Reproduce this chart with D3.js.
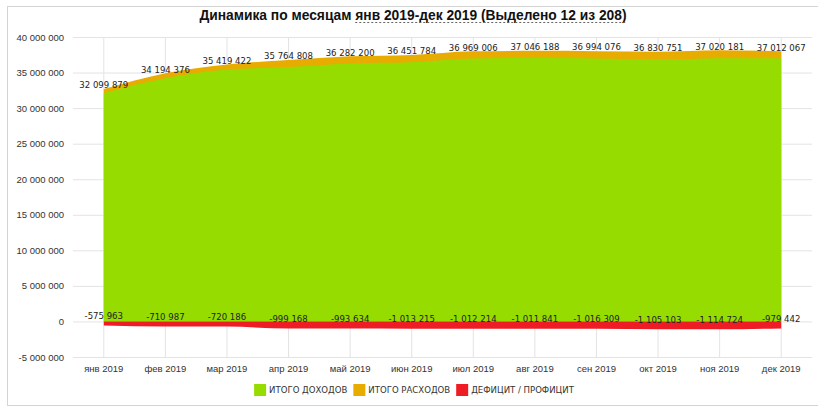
<!DOCTYPE html>
<html>
<head>
<meta charset="utf-8">
<script src="https://cdn.jsdelivr.net/npm/d3@7"></script>
<style>
  body { margin: 0; background: #fff; }
  svg { display: block; font-family: "DejaVu Sans Condensed", "Liberation Sans", Arial, sans-serif; }
  .axis text { font-size: 9.5px; fill: #333; }
  .axis .domain { display: none; }
  .axis .tick line { stroke: #e3e3e3; }
  .lbl { font-size: 9.5px; fill: #222; }
  .legend text { font-size: 9.5px; fill: #333; }
</style>
</head>
<body>
<div id="chart"></div>
<script>
var months = ["янв 2019", "фев 2019", "мар 2019", "апр 2019", "май 2019", "июн 2019",
              "июл 2019", "авг 2019", "сен 2019", "окт 2019", "ноя 2019", "дек 2019"];
// labelled top series
var income = [32099879, 34194376, 35419422, 35764808, 36282200, 36451784,
              36969006, 37046188, 36994076, 36830751, 37020181, 37012067];
// orange band sits on top of green, thickness = |deficit|
var expenses = [32675842, 34905363, 36139608, 36763976, 37275834, 37464999,
                37981220, 38058029, 38010385, 37935854, 38134905, 37991509];
var deficit = [-575963, -710987, -720186, -999168, -993634, -1013215,
               -1012214, -1011841, -1016309, -1105103, -1114724, -979442];
var yTicks = [-5000000, 0, 5000000, 10000000, 15000000, 20000000, 25000000, 30000000, 35000000, 40000000];
var seriesNames = ["ИТОГО ДОХОДОВ", "ИТОГО РАСХОДОВ", "ДЕФИЦИТ / ПРОФИЦИТ"];
var colors = ["#96dc00", "#e8ab00", "#ee1c25"];

var W = 818, H = 407;
var svg = d3.select("#chart").append("svg").attr("width", W).attr("height", H);

// frame
svg.append("rect")
  .attr("x", 7.5).attr("y", 6.5).attr("width", 830).attr("height", 399)
  .attr("fill", "none").attr("stroke", "#d4d4d4");

var plotL = 73, plotR = 812, plotT = 37, plotB = 357;

var x = d3.scaleBand().domain(months).range([plotL, plotR]);
var cx = function(i) { return x(months[i]) + x.bandwidth() / 2; };
var y = d3.scaleLinear().domain([-5000000, 40000000]).range([plotB, plotT]);

var fmt = function(v) { return d3.format(",")(v).replace(/,/g, " ").replace("−", "-"); };

// horizontal grid + y labels
svg.append("g").attr("class", "axis")
  .attr("transform", "translate(" + plotL + ",0)")
  .call(d3.axisLeft(y).tickValues(yTicks).tickSizeInner(-(plotR - plotL)).tickSizeOuter(0)
        .tickPadding(9).tickFormat(fmt));

// vertical grid + month labels
svg.append("g").attr("class", "axis")
  .attr("transform", "translate(0," + plotB + ")")
  .call(d3.axisBottom(x).tickSizeInner(-(plotB - plotT)).tickSizeOuter(0).tickPadding(8));

var idx = d3.range(months.length);
var curve = d3.curveMonotoneX;

function area(vals) {
  return d3.area().curve(curve)
    .x(function(i) { return cx(i); })
    .y0(y(0))
    .y1(function(i) { return y(vals[i]); })(idx);
}

svg.append("path").attr("d", area(expenses)).attr("fill", colors[1]);
svg.append("path").attr("d", area(income)).attr("fill", colors[0]);
svg.append("path").attr("d", area(deficit)).attr("fill", colors[2]);

// value labels
svg.append("g").selectAll("text").data(idx).enter().append("text")
  .attr("class", "lbl")
  .attr("x", function(i) { return cx(i); })
  .attr("y", function(i) { return y(expenses[i]) - 4; })
  .attr("dy", "0.35em")
  .attr("text-anchor", "middle")
  .text(function(i) { return fmt(income[i]); });

svg.append("g").selectAll("text").data(idx).enter().append("text")
  .attr("class", "lbl")
  .attr("x", function(i) { return cx(i); })
  .attr("y", function(i) { return y(deficit[i]) - 10; })
  .attr("dy", "0.35em")
  .attr("text-anchor", "middle")
  .text(function(i) { return fmt(deficit[i]); });

// title
var t1 = "Динамика по месяцам ";
var t2 = "янв 2019-дек 2019 (Выделено 12 из 208)";
var title = svg.append("text")
  .attr("x", 413).attr("y", 20)
  .attr("text-anchor", "middle")
  .style("font-family", "'Liberation Sans', Arial, sans-serif")
  .style("font-size", "13.8px").style("font-weight", "bold").attr("fill", "#111")
  .text(t1 + t2);
var tn = title.node();
var ux0 = tn.getStartPositionOfChar(t1.length).x;
var uw = tn.getSubStringLength(t1.length, t2.length);
svg.append("line")
  .attr("x1", ux0).attr("x2", ux0 + uw).attr("y1", 22.5).attr("y2", 22.5)
  .attr("stroke", "#666").attr("stroke-dasharray", "2,2");

// legend
var lg = svg.append("g").attr("class", "legend");
var items = lg.selectAll("g").data(seriesNames).enter().append("g");
items.append("rect").attr("width", 12).attr("height", 12).attr("y", -6)
  .attr("fill", function(d, i) { return colors[i]; });
items.append("text").attr("x", 15).attr("dy", "0.35em").text(function(d) { return d; });
var widths = [];
items.each(function() {
  widths.push(15 + d3.select(this).select("text").node().getComputedTextLength());
});
var total = d3.sum(widths) + 6 * (widths.length - 1);
var pos = 414 - total / 2;
items.attr("transform", function(d, i) {
  var p = pos; pos += widths[i] + 6;
  return "translate(" + p + ",390)";
});
</script>
</body>
</html>
